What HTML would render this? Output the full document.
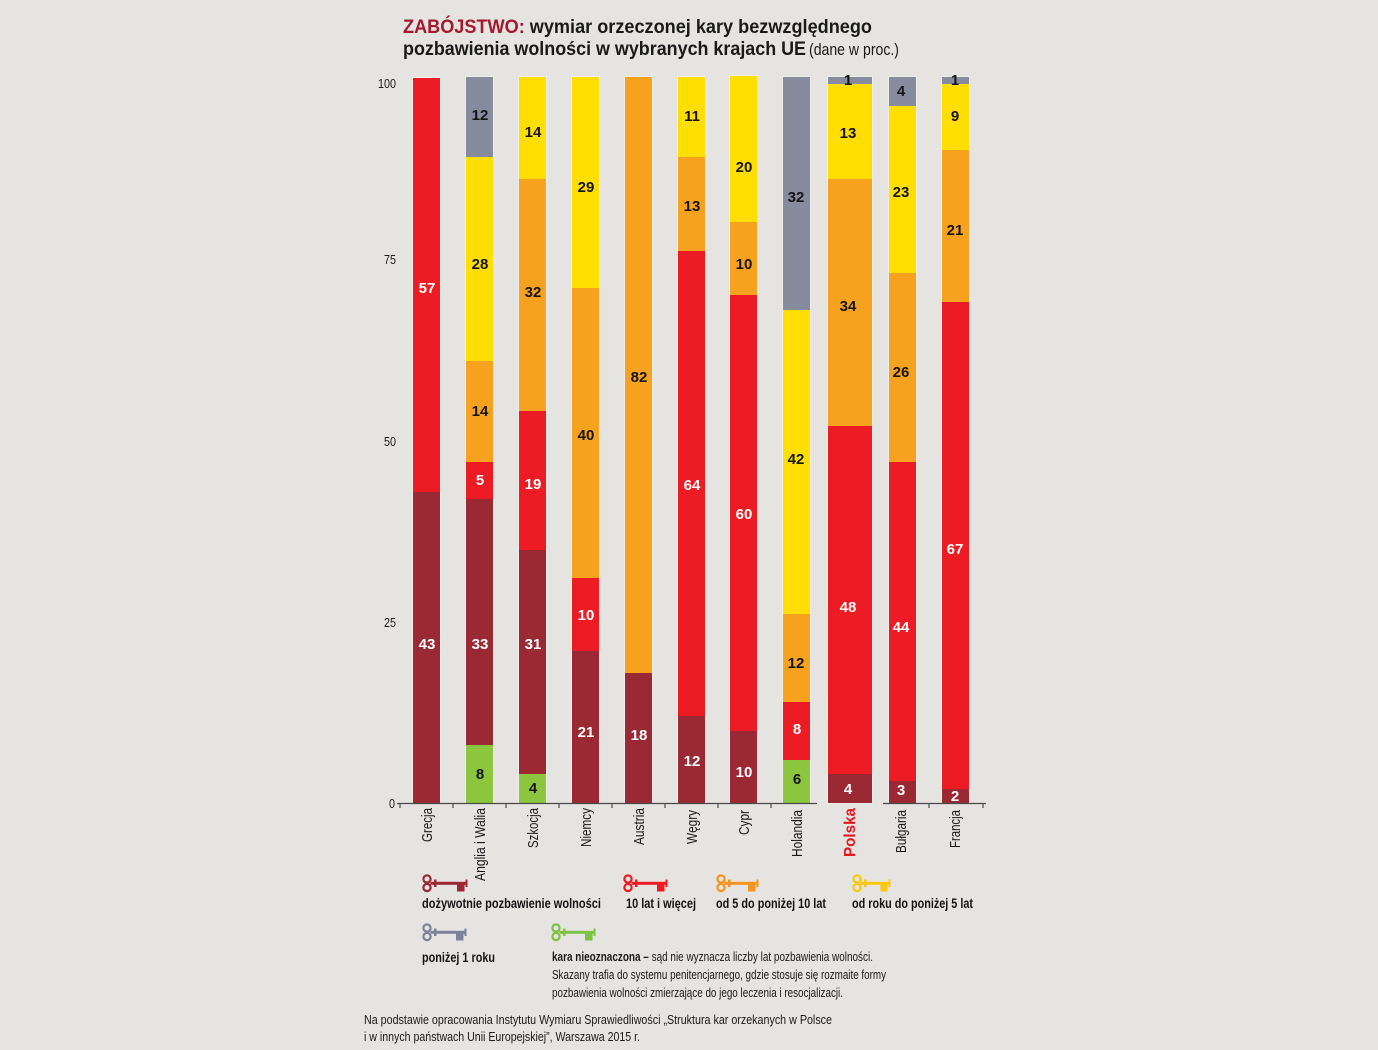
<!DOCTYPE html>
<html><head><meta charset="utf-8"><style>
html,body{margin:0;padding:0;background:#E5E4E1;}
svg{display:block;}
text{font-family:"Liberation Sans",sans-serif;}
</style></head><body>
<svg width="1378" height="1050" viewBox="0 0 1378 1050" xmlns="http://www.w3.org/2000/svg">
<rect width="1378" height="1050" fill="#E5E4E1"/>
<!-- title -->
<text x="403" y="33" font-size="19.5" font-weight="bold" textLength="469" lengthAdjust="spacingAndGlyphs"><tspan fill="#A3192E">ZABÓJSTWO:</tspan><tspan fill="#1a1a1a"> wymiar orzeczonej kary bezwzględnego</tspan></text>
<text x="403" y="55" font-size="19.5" font-weight="bold" fill="#1a1a1a" textLength="403" lengthAdjust="spacingAndGlyphs">pozbawienia wolności w wybranych krajach UE</text>
<text x="809" y="55" font-size="17" fill="#1a1a1a" textLength="90" lengthAdjust="spacingAndGlyphs">(dane w proc.)</text>

<!-- y axis labels -->
<g font-size="13" fill="#1a1a1a" text-anchor="end">
<text x="396" y="88" textLength="18" lengthAdjust="spacingAndGlyphs">100</text>
<text x="396" y="264" textLength="12" lengthAdjust="spacingAndGlyphs">75</text>
<text x="396" y="446" textLength="12" lengthAdjust="spacingAndGlyphs">50</text>
<text x="396" y="627" textLength="12" lengthAdjust="spacingAndGlyphs">25</text>
<text x="395" y="808" textLength="6" lengthAdjust="spacingAndGlyphs">0</text>
</g>

<!-- bars -->
<g stroke="none">
<rect x="413" y="78" width="27" height="414" fill="#ED1C24"/>
<rect x="413" y="492" width="27" height="311" fill="#9B2933"/>
<rect x="466" y="77" width="27" height="80" fill="#878B9E"/>
<rect x="466" y="157" width="27" height="204" fill="#FFDE00"/>
<rect x="466" y="361" width="27" height="101" fill="#F7A21F"/>
<rect x="466" y="462" width="27" height="37" fill="#ED1C24"/>
<rect x="466" y="499" width="27" height="246" fill="#9B2933"/>
<rect x="466" y="745" width="27" height="58" fill="#8CC63F"/>
<rect x="519" y="77" width="27" height="102" fill="#FFDE00"/>
<rect x="519" y="179" width="27" height="232" fill="#F7A21F"/>
<rect x="519" y="411" width="27" height="139" fill="#ED1C24"/>
<rect x="519" y="550" width="27" height="224" fill="#9B2933"/>
<rect x="519" y="774" width="27" height="29" fill="#8CC63F"/>
<rect x="572" y="77" width="27" height="211" fill="#FFDE00"/>
<rect x="572" y="288" width="27" height="290" fill="#F7A21F"/>
<rect x="572" y="578" width="27" height="73" fill="#ED1C24"/>
<rect x="572" y="651" width="27" height="152" fill="#9B2933"/>
<rect x="625" y="77" width="27" height="596" fill="#F7A21F"/>
<rect x="625" y="673" width="27" height="130" fill="#9B2933"/>
<rect x="678" y="77" width="27" height="80" fill="#FFDE00"/>
<rect x="678" y="157" width="27" height="94" fill="#F7A21F"/>
<rect x="678" y="251" width="27" height="465" fill="#ED1C24"/>
<rect x="678" y="716" width="27" height="87" fill="#9B2933"/>
<rect x="730" y="76" width="27" height="146" fill="#FFDE00"/>
<rect x="730" y="222" width="27" height="73" fill="#F7A21F"/>
<rect x="730" y="295" width="27" height="436" fill="#ED1C24"/>
<rect x="730" y="731" width="27" height="72" fill="#9B2933"/>
<rect x="783" y="77" width="27" height="233" fill="#878B9E"/>
<rect x="783" y="310" width="27" height="304" fill="#FFDE00"/>
<rect x="783" y="614" width="27" height="88" fill="#F7A21F"/>
<rect x="783" y="702" width="27" height="58" fill="#ED1C24"/>
<rect x="783" y="760" width="27" height="43" fill="#8CC63F"/>
<rect x="828" y="77" width="44" height="7" fill="#878B9E"/>
<rect x="828" y="84" width="44" height="95" fill="#FFDE00"/>
<rect x="828" y="179" width="44" height="247" fill="#F7A21F"/>
<rect x="828" y="426" width="44" height="348" fill="#ED1C24"/>
<rect x="828" y="774" width="44" height="29" fill="#9B2933"/>
<rect x="889" y="77" width="27" height="29" fill="#878B9E"/>
<rect x="889" y="106" width="27" height="167" fill="#FFDE00"/>
<rect x="889" y="273" width="27" height="189" fill="#F7A21F"/>
<rect x="889" y="462" width="27" height="319" fill="#ED1C24"/>
<rect x="889" y="781" width="27" height="22" fill="#9B2933"/>
<rect x="942" y="77" width="27" height="7" fill="#878B9E"/>
<rect x="942" y="84" width="27" height="66" fill="#FFDE00"/>
<rect x="942" y="150" width="27" height="152" fill="#F7A21F"/>
<rect x="942" y="302" width="27" height="487" fill="#ED1C24"/>
<rect x="942" y="789" width="27" height="14" fill="#9B2933"/>
</g>
<g fill="none" stroke="#F4F3F0" stroke-width="1" opacity="0.7">
<rect x="412.5" y="77.5" width="28" height="726"/>
<rect x="465.5" y="76.5" width="28" height="727"/>
<rect x="518.5" y="76.5" width="28" height="727"/>
<rect x="571.5" y="76.5" width="28" height="727"/>
<rect x="624.5" y="76.5" width="28" height="727"/>
<rect x="677.5" y="76.5" width="28" height="727"/>
<rect x="729.5" y="75.5" width="28" height="728"/>
<rect x="782.5" y="76.5" width="28" height="727"/>
<rect x="827.5" y="76.5" width="45" height="727"/>
<rect x="888.5" y="76.5" width="28" height="727"/>
<rect x="941.5" y="76.5" width="28" height="727"/>
</g>

<!-- axis -->
<g stroke="#4a4a4a" stroke-width="1.2">
<line x1="397" y1="803.5" x2="817" y2="803.5"/>
<line x1="883" y1="803.5" x2="986" y2="803.5"/>
<line x1="400" y1="803" x2="400" y2="808"/>
<line x1="453" y1="803" x2="453" y2="808"/>
<line x1="506" y1="803" x2="506" y2="808"/>
<line x1="559" y1="803" x2="559" y2="808"/>
<line x1="612" y1="803" x2="612" y2="808"/>
<line x1="665" y1="803" x2="665" y2="808"/>
<line x1="718" y1="803" x2="718" y2="808"/>
<line x1="771" y1="803" x2="771" y2="808"/>
<line x1="929" y1="803" x2="929" y2="808"/>
<line x1="983" y1="803" x2="983" y2="808"/>
</g>

<!-- value labels -->
<g font-size="15" font-weight="bold" text-anchor="middle">
<g fill="#ffffff">
<text x="427" y="293">57</text>
<text x="427" y="649">43</text>
<text x="480" y="485">5</text>
<text x="480" y="649">33</text>
<text x="533" y="489">19</text>
<text x="533" y="649">31</text>
<text x="586" y="620">10</text>
<text x="586" y="737">21</text>
<text x="639" y="740">18</text>
<text x="692" y="490">64</text>
<text x="692" y="766">12</text>
<text x="744" y="519">60</text>
<text x="744" y="777">10</text>
<text x="797" y="734">8</text>
<text x="848" y="612">48</text>
<text x="848" y="794">4</text>
<text x="901" y="632">44</text>
<text x="901" y="795">3</text>
<text x="955" y="554">67</text>
<text x="955" y="801">2</text>
</g>
<g fill="#141414">
<text x="480" y="120">12</text>
<text x="480" y="269">28</text>
<text x="480" y="416">14</text>
<text x="480" y="779">8</text>
<text x="533" y="137">14</text>
<text x="533" y="297">32</text>
<text x="533" y="793">4</text>
<text x="586" y="192">29</text>
<text x="586" y="440">40</text>
<text x="639" y="382">82</text>
<text x="692" y="121">11</text>
<text x="692" y="211">13</text>
<text x="744" y="172">20</text>
<text x="744" y="269">10</text>
<text x="796" y="202">32</text>
<text x="796" y="464">42</text>
<text x="796" y="668">12</text>
<text x="797" y="784">6</text>
<text x="848" y="85">1</text>
<text x="848" y="138">13</text>
<text x="848" y="311">34</text>
<text x="901" y="96">4</text>
<text x="901" y="197">23</text>
<text x="901" y="377">26</text>
<text x="955" y="85">1</text>
<text x="955" y="121">9</text>
<text x="955" y="235">21</text>
</g>
</g>

<!-- country labels -->
<g font-size="15" fill="#1a1a1a" text-anchor="end">
<text transform="translate(432,808) rotate(-90)" textLength="34" lengthAdjust="spacingAndGlyphs">Grecja</text>
<text transform="translate(485,808) rotate(-90)" textLength="73" lengthAdjust="spacingAndGlyphs">Anglia i Walia</text>
<text transform="translate(538,808) rotate(-90)" textLength="40" lengthAdjust="spacingAndGlyphs">Szkocja</text>
<text transform="translate(591,808) rotate(-90)" textLength="39" lengthAdjust="spacingAndGlyphs">Niemcy</text>
<text transform="translate(644,808) rotate(-90)" textLength="37" lengthAdjust="spacingAndGlyphs">Austria</text>
<text transform="translate(697,810) rotate(-90)" textLength="34" lengthAdjust="spacingAndGlyphs">Węgry</text>
<text transform="translate(749,810) rotate(-90)" textLength="25" lengthAdjust="spacingAndGlyphs">Cypr</text>
<text transform="translate(802,810) rotate(-90)" textLength="47" lengthAdjust="spacingAndGlyphs">Holandia</text>
<text transform="translate(906,810) rotate(-90)" textLength="43" lengthAdjust="spacingAndGlyphs">Bułgaria</text>
<text transform="translate(960,810) rotate(-90)" textLength="38" lengthAdjust="spacingAndGlyphs">Francja</text>
</g>
<text transform="translate(855,808) rotate(-90)" text-anchor="end" font-size="16" font-weight="bold" fill="#E8151F" textLength="49" lengthAdjust="spacingAndGlyphs">Polska</text>

<!-- legend keys -->
<g transform="translate(422,874)" fill="#9B2933" stroke="#9B2933">
<circle cx="5" cy="5" r="3.6" fill="none" stroke-width="2.2"/>
<circle cx="5" cy="13.5" r="3.6" fill="none" stroke-width="2.2"/>
<g stroke="none"><rect x="8.5" y="7.8" width="37" height="3"/><rect x="12" y="5.5" width="2.5" height="7.5"/><rect x="35" y="9" width="7.5" height="8.5"/><rect x="43.5" y="5.5" width="2" height="7.5"/></g>
</g>
<g transform="translate(623,874)" fill="#ED1C24" stroke="#ED1C24">
<circle cx="5" cy="5" r="3.6" fill="none" stroke-width="2.2"/>
<circle cx="5" cy="13.5" r="3.6" fill="none" stroke-width="2.2"/>
<g stroke="none"><rect x="8.5" y="7.8" width="36" height="3"/><rect x="12" y="5.5" width="2.5" height="7.5"/><rect x="34" y="9" width="7.5" height="8.5"/><rect x="42.5" y="5.5" width="2" height="7.5"/></g>
</g>
<g transform="translate(716,874)" fill="#F7941D" stroke="#F7941D">
<circle cx="5" cy="5" r="3.6" fill="none" stroke-width="2.2"/>
<circle cx="5" cy="13.5" r="3.6" fill="none" stroke-width="2.2"/>
<g stroke="none"><rect x="8.5" y="7.8" width="34" height="3"/><rect x="12" y="5.5" width="2.5" height="7.5"/><rect x="32" y="9" width="7.5" height="8.5"/><rect x="40.5" y="5.5" width="2" height="7.5"/></g>
</g>
<g transform="translate(852,874)" fill="#FCC80F" stroke="#FCC80F">
<circle cx="5" cy="5" r="3.6" fill="none" stroke-width="2.2"/>
<circle cx="5" cy="13.5" r="3.6" fill="none" stroke-width="2.2"/>
<g stroke="none"><rect x="8.5" y="7.8" width="30" height="3"/><rect x="12" y="5.5" width="2.5" height="7.5"/><rect x="28.5" y="9" width="7" height="8.5"/><rect x="36.5" y="5.5" width="2" height="7.5"/></g>
</g>
<g transform="translate(422,923)" fill="#7D8199" stroke="#7D8199">
<circle cx="5" cy="5" r="3.6" fill="none" stroke-width="2.2"/>
<circle cx="5" cy="13.5" r="3.6" fill="none" stroke-width="2.2"/>
<g stroke="none"><rect x="8.5" y="7.8" width="36" height="3"/><rect x="12" y="5.5" width="2.5" height="7.5"/><rect x="34" y="9" width="7.5" height="8.5"/><rect x="42.5" y="5.5" width="2" height="7.5"/></g>
</g>
<g transform="translate(551,923)" fill="#7DC242" stroke="#7DC242">
<circle cx="5" cy="5" r="3.6" fill="none" stroke-width="2.2"/>
<circle cx="5" cy="13.5" r="3.6" fill="none" stroke-width="2.2"/>
<g stroke="none"><rect x="8.5" y="7.8" width="36" height="3"/><rect x="12" y="5.5" width="2.5" height="7.5"/><rect x="34" y="9" width="7.5" height="8.5"/><rect x="42.5" y="5.5" width="2" height="7.5"/></g>
</g>

<!-- legend text -->
<g font-size="13.5" font-weight="bold" fill="#141414">
<text x="422" y="908" textLength="179" lengthAdjust="spacingAndGlyphs">dożywotnie pozbawienie wolności</text>
<text x="626" y="908" textLength="70" lengthAdjust="spacingAndGlyphs">10 lat i więcej</text>
<text x="716" y="908" textLength="110" lengthAdjust="spacingAndGlyphs">od 5 do poniżej 10 lat</text>
<text x="852" y="908" textLength="121" lengthAdjust="spacingAndGlyphs">od roku do poniżej 5 lat</text>
<text x="422" y="962" textLength="73" lengthAdjust="spacingAndGlyphs">poniżej 1 roku</text>
</g>
<g font-size="13" fill="#1a1a1a">
<text x="552" y="961" textLength="321" lengthAdjust="spacingAndGlyphs"><tspan font-weight="bold">kara nieoznaczona –</tspan> sąd nie wyznacza liczby lat pozbawienia wolności.</text>
<text x="552" y="979" textLength="334" lengthAdjust="spacingAndGlyphs">Skazany trafia do systemu penitencjarnego, gdzie stosuje się rozmaite formy</text>
<text x="552" y="997" textLength="291" lengthAdjust="spacingAndGlyphs">pozbawienia wolności zmierzające do  jego leczenia i resocjalizacji.</text>
</g>

<!-- footnote -->
<g font-size="13" fill="#1a1a1a">
<text x="364" y="1024" textLength="468" lengthAdjust="spacingAndGlyphs">Na podstawie opracowania Instytutu Wymiaru Sprawiedliwości „Struktura kar orzekanych w Polsce</text>
<text x="364" y="1041" textLength="276" lengthAdjust="spacingAndGlyphs">i w innych państwach Unii Europejskiej”, Warszawa 2015 r.</text>
</g>
</svg>
</body></html>
